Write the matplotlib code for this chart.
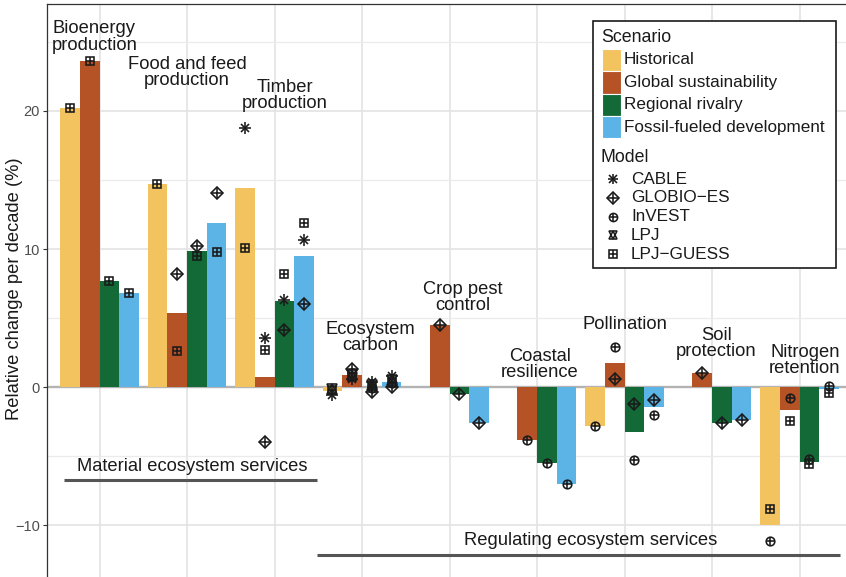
import numpy as np
import matplotlib
matplotlib.use("Agg")
import matplotlib.pyplot as plt
from matplotlib.patches import Rectangle

plt.rcParams["font.family"] = ["Liberation Sans", "DejaVu Sans"]

nan = np.nan

# ---- data -------------------------------------------------------------
services = ["Bioenergy\nproduction", "Food and feed\nproduction", "Timber\nproduction",
            "Ecosystem\ncarbon", "Crop pest\ncontrol", "Coastal\nresilience",
            "Pollination", "Soil\nprotection", "Nitrogen\nretention"]

scenarios = ["Historical", "Global sustainability", "Regional rivalry",
             "Fossil-fueled development"]

# mean relative change per decade (%) for each scenario, one value per service
historical = [20.2, 14.7, 14.45, -0.28, nan, nan, -2.8, nan, -9.97]
global_sust = [23.6, 5.4, 0.76, 0.92, 4.5, -3.8, 1.78, 1.0, -1.62]
regional_riv = [7.7, 9.85, 6.23, 0.05, -0.5, -5.5, -3.23, -2.56, -5.38]
fossil_dev = [6.8, 11.9, 9.52, 0.4, -2.6, -7.0, -1.46, -2.4, -0.15]
scenario_values = [historical, global_sust, regional_riv, fossil_dev]

models = ["CABLE", "GLOBIO\u2212ES", "InVEST", "LPJ", "LPJ\u2212GUESS"]

# individual model results: one list per scenario (same order as scenarios)
cable = [
    [nan, nan, 18.8, -0.55, nan, nan, nan, nan, nan],
    [nan, nan, 3.55, 0.6, nan, nan, nan, nan, nan],
    [nan, nan, 6.33, 0.35, nan, nan, nan, nan, nan],
    [nan, nan, 10.65, 0.8, nan, nan, nan, nan, nan],
]
globio = [
    [nan, nan, nan, nan, nan, nan, nan, nan, nan],
    [nan, 8.2, -3.96, 1.35, 4.5, nan, 0.62, 1.0, nan],
    [nan, 10.2, 4.15, -0.35, -0.5, nan, -1.18, -2.56, nan],
    [nan, 14.05, 6.0, 0.05, -2.6, nan, -0.92, -2.4, nan],
]
invest = [
    [nan, nan, nan, nan, nan, nan, -2.8, nan, -11.15],
    [nan, nan, nan, 1.0, nan, -3.8, 2.95, nan, -0.8],
    [nan, nan, nan, -0.05, nan, -5.5, -5.27, nan, -5.2],
    [nan, nan, nan, 0.3, nan, -7.0, -2.0, nan, 0.1],
]
lpj = [
    [nan, nan, nan, -0.1, nan, nan, nan, nan, nan],
    [nan, nan, nan, 0.9, nan, nan, nan, nan, nan],
    [nan, nan, nan, 0.2, nan, nan, nan, nan, nan],
    [nan, nan, nan, 0.5, nan, nan, nan, nan, nan],
]
lpj_guess = [
    [20.2, 14.7, 10.1, -0.2, nan, nan, nan, nan, -8.8],
    [23.6, 2.6, 2.7, 0.75, nan, nan, nan, nan, -2.44],
    [7.7, 9.5, 8.2, 0.1, nan, nan, nan, nan, -5.55],
    [6.8, 9.76, 11.9, 0.35, nan, nan, nan, nan, -0.4],
]
model_values = [cable, globio, invest, lpj, lpj_guess]

# ---- styling ----------------------------------------------------------
scenario_colors = ["#F2C35E", "#B55327", "#136A37", "#5BB3E6"]
ink = "#1a1a1a"

# glyph recipes: list of (matplotlib marker, size in points)
glyphs = {
    "CABLE": [("+", 8.0), ("x", 5.8)],
    "GLOBIO\u2212ES": [("D", 6.0), ("+", 8.4)],
    "InVEST": [("o", 6.2), ("+", 6.2)],
    "LPJ": [("^", 6.8), ("v", 6.8)],
    "LPJ\u2212GUESS": [("s", 5.4), ("+", 5.4)],
}

label_pos = [(0.94, 25.35), (2.0, 22.75), (3.12, 21.1), (4.10, 3.62), (5.15, 6.5),
             (6.03, 1.62), (7.0, 4.56), (8.05, 3.14), (9.06, 1.94)]


def draw_glyph(axis, xs, ys, model, scale=1.0, z=4):
    for mk, size in glyphs[model]:
        axis.plot(xs, ys, linestyle="none", marker=mk, markersize=size * scale,
                  markerfacecolor="none", markeredgecolor=ink,
                  markeredgewidth=1.15, zorder=z)


# ---- figure -----------------------------------------------------------
W, H = 846, 577
fig = plt.figure(figsize=(W / 100, H / 100), dpi=100)
ax = fig.add_axes([47 / W, 0, 805 / W, 573 / H])
ax.set_xlim(0.4, 9.6)
ax.set_ylim(-13.73, 27.74)

x = np.arange(1, len(services) + 1)
width = 0.225
for i, (vals, col) in enumerate(zip(scenario_values, scenario_colors)):
    vals = np.asarray(vals, dtype=float)
    ok = ~np.isnan(vals)
    ax.bar(x[ok] + (i - 1.5) * width, vals[ok], width, color=col,
           edgecolor="none", zorder=2)

for m, per_scen in zip(models, model_values):
    for i, vals in enumerate(per_scen):
        vals = np.asarray(vals, dtype=float)
        ok = ~np.isnan(vals)
        if ok.any():
            draw_glyph(ax, x[ok] + (i - 1.5) * width, vals[ok], m)

ax.axhline(0, color="#B3B3B3", lw=1.7, zorder=1.5)

ax.set_yticks([-10, 0, 10, 20])
ax.set_yticks([-5, 5, 15, 25], minor=True)
ax.set_xticks(x)
ax.set_xticklabels([])
ax.tick_params(axis="x", length=0)
ax.tick_params(axis="y", which="major", length=3, width=0.8, color="#333333",
               labelsize=10.5, labelcolor="#4d4d4d", pad=2)
ax.tick_params(axis="y", which="minor", length=0)
ax.grid(which="major", color="#E3E3E3", lw=1.2)
ax.grid(which="minor", axis="y", color="#EBEBEB", lw=0.9)
ax.set_axisbelow(True)
for side in ("right", "bottom"):
    ax.spines[side].set_visible(False)
for side in ("left", "top"):
    ax.spines[side].set_color("#333333")
    ax.spines[side].set_linewidth(0.9)

for name, (lx, ly) in zip(services, label_pos):
    ax.text(lx, ly, name, ha="center", va="center", fontsize=13.2,
            color=ink, linespacing=0.93, zorder=5)

# service group brackets
ax.plot([0.59, 3.49], [-6.74, -6.74], color="#555555", lw=2.2, solid_capstyle="butt")
ax.text(2.06, -5.75, "Material ecosystem services", ha="center", va="center",
        fontsize=13.2, color=ink)
ax.plot([3.49, 9.46], [-12.15, -12.15], color="#555555", lw=2.2, solid_capstyle="butt")
ax.text(6.61, -11.12, "Regulating ecosystem services", ha="center", va="center",
        fontsize=13.2, color=ink)

# ---- overlay in pixel units for axis title and legend -----------------
lax = fig.add_axes([0, 0, 1, 1])
lax.set_xlim(0, W)
lax.set_ylim(H, 0)
lax.axis("off")

lax.text(15, 289, "Relative change per decade (%)", rotation=90, ha="center",
         va="center", fontsize=13.2, color=ink)

lax.add_patch(Rectangle((593, 21), 243, 247, facecolor="white", edgecolor=ink,
                        lw=1.2, zorder=1))
lax.text(601, 38, "Scenario", ha="left", va="center", fontsize=12.8, color=ink, zorder=2)
for k, (name, col) in enumerate(zip(scenarios, scenario_colors)):
    cy = 60 + k * 22.4
    lax.add_patch(Rectangle((602, cy - 11.2), 19, 22.4, facecolor=col,
                            edgecolor="white", lw=0.8, zorder=2))
    lax.text(624, cy, name, ha="left", va="center", fontsize=12.3, color=ink, zorder=2)

lax.text(601, 158, "Model", ha="left", va="center", fontsize=12.8, color=ink, zorder=2)
for k, m in enumerate(models):
    cy = 179 + k * 18.8
    draw_glyph(lax, [613], [cy], m, scale=0.95, z=3)
    lax.text(631, cy, m, ha="left", va="center", fontsize=12.3, color=ink, zorder=2)

fig.savefig("out.png", dpi=100)
